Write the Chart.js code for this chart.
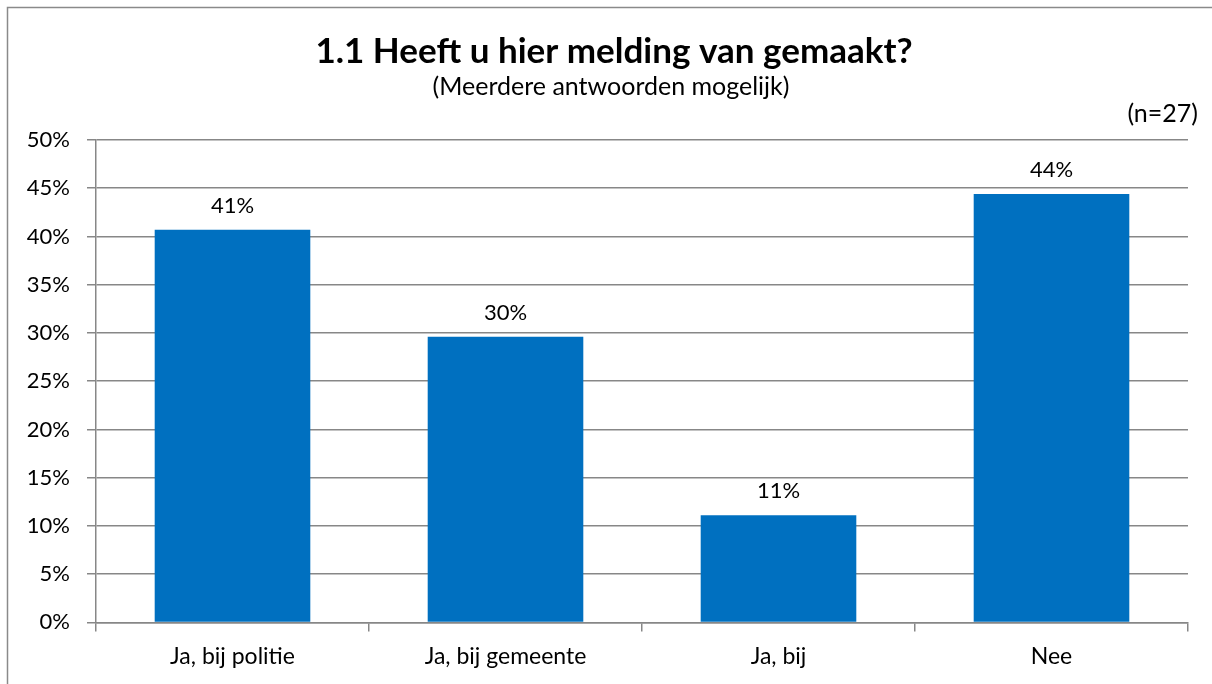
<!DOCTYPE html>
<html>
<head>
<meta charset="utf-8">
<script src="https://cdn.jsdelivr.net/npm/chart.js@4/dist/chart.umd.min.js"></script>
<style>
  html, body { margin: 0; padding: 0; background: #ffffff; }
  #wrap { width: 1212px; height: 684px; position: relative; }
</style>
</head>
<body>
<div id="wrap"><canvas id="c" width="1212" height="684"></canvas></div>
<script>
const titleText = '1.1 Heeft u hier melding van gemaakt?';
const subtitleText = '(Meerdere antwoorden mogelijk)';
const sampleNote = '(n=27)';
const categories = ['Ja, bij politie', 'Ja, bij gemeente', 'Ja, bij', 'Nee'];
const values = [40.7, 29.6, 11.1, 44.4];
const yMin = 0;
const yMax = 50;
const yStep = 5;

const FONT = 'Lato, "Open Sans", "Liberation Sans", sans-serif';
const GRID = '#878787';
const BAR = '#0070C0';

const framePlugin = {
  id: 'frame',
  beforeDraw(chart) {
    const ctx = chart.ctx;
    ctx.save();
    ctx.fillStyle = '#ffffff';
    ctx.fillRect(0, 0, chart.width, chart.height);
    ctx.strokeStyle = '#8a8a8a';
    ctx.lineWidth = 1.5;
    ctx.beginPath();
    ctx.moveTo(7.5, chart.height);
    ctx.lineTo(7.5, 7.5);
    ctx.lineTo(chart.width, 7.5);
    ctx.stroke();
    ctx.restore();
  },
  afterDraw(chart) {
    const ctx = chart.ctx;
    ctx.save();
    ctx.fillStyle = '#000000';
    ctx.textBaseline = 'alphabetic';
    // title and subtitle
    ctx.textAlign = 'center';
    ctx.font = 'bold 35px ' + FONT;
    ctx.fillText(titleText, 614, 63);
    ctx.font = '25px ' + FONT;
    ctx.fillText(subtitleText, 611, 95);
    // sample size
    ctx.textAlign = 'right';
    ctx.fillText(sampleNote, 1198, 122);
    // data labels
    ctx.textAlign = 'center';
    ctx.font = '22px ' + FONT;
    const meta = chart.getDatasetMeta(0);
    meta.data.forEach((bar, i) => {
      ctx.fillText(Math.round(values[i]) + '%', bar.x, bar.y - 17);
    });
    ctx.restore();
  }
};

new Chart(document.getElementById('c'), {
  type: 'bar',
  data: {
    labels: categories,
    datasets: [{
      data: values,
      backgroundColor: BAR,
      borderWidth: 0,
      categoryPercentage: 1.0,
      barPercentage: 0.57
    }]
  },
  options: {
    responsive: false,
    animation: false,
    devicePixelRatio: 1,
    layout: { padding: { left: 14, right: 24, top: 140, bottom: 3 } },
    plugins: {
      legend: { display: false },
      tooltip: { enabled: false },
      title: { display: false }
    },
    scales: {
      x: {
        grid: {
          display: true,
          drawOnChartArea: false,
          drawTicks: true,
          tickLength: 9,
          color: GRID,
          lineWidth: 1.5,
          offset: true
        },
        border: { display: true, color: GRID, width: 1.5 },
        ticks: {
          color: '#000000',
          font: { family: FONT, size: 23, lineHeight: 1.2 },
          padding: 11,
          maxRotation: 0
        }
      },
      y: {
        min: yMin,
        max: yMax,
        afterFit(scale) { scale.width = 82; },
        grid: {
          color: GRID,
          lineWidth: 1.5,
          tickLength: 9,
          drawTicks: true
        },
        border: { display: true, color: GRID, width: 1.5 },
        ticks: {
          stepSize: yStep,
          color: '#000000',
          font: { family: FONT, size: 22 },
          padding: 17,
          callback: (v) => v + '%'
        }
      }
    }
  },
  plugins: [framePlugin]
});
</script>
</body>
</html>
